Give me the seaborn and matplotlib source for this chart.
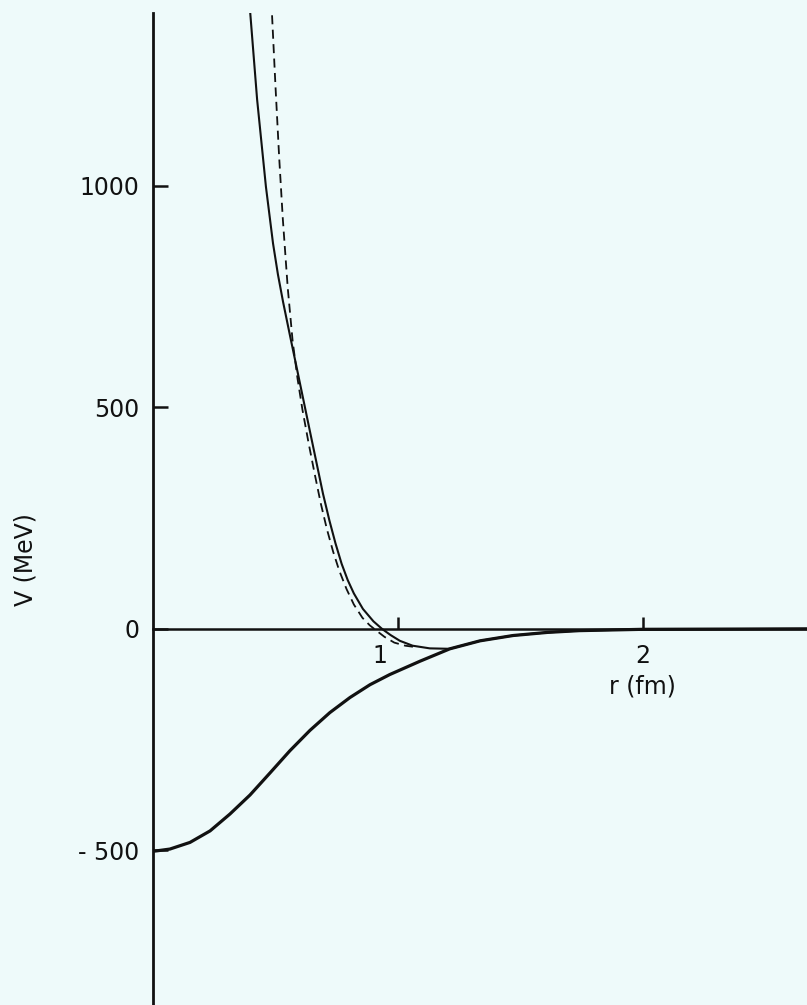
"""Nucleon-nucleon potential sketch: repulsive core + attractive tail, V(r) in MeV."""
import matplotlib
matplotlib.use("Agg")
import matplotlib.pyplot as plt
import matplotlib.transforms as mtransforms
import pandas as pd
import seaborn as sns

# total potential (thin solid)
r_total = [0.396, 0.425, 0.461, 0.49, 0.51, 0.531, 0.56, 0.588, 0.641, 0.694,
           0.72, 0.745, 0.77, 0.795, 0.82, 0.857, 0.90, 0.935, 0.97, 1.008,
           1.06, 1.13, 1.212, 1.335, 1.47, 1.61, 1.74, 2.0, 2.67]
V_total = [1397, 1195, 998, 870, 800, 738, 660, 586, 445, 305,
           245, 193, 147, 110, 80, 45, 17, 0, -14, -27,
           -38, -44, -45, -27, -15, -8, -4, -1, 0]

# alternative core (dashed)
r_dash = [0.486, 0.50, 0.515, 0.53, 0.55, 0.57, 0.59, 0.61, 0.635, 0.66,
          0.685, 0.71, 0.735, 0.76, 0.79, 0.82, 0.855, 0.885, 0.91, 0.945,
          0.985, 1.03, 1.07]
V_dash = [1385, 1225, 1065, 925, 770, 650, 565, 495, 420, 350,
          283, 225, 175, 132, 90, 55, 25, 8, -3, -18,
          -31, -38, -41]

# attractive part (thick solid)
r_att = [0.0, 0.016, 0.069, 0.151, 0.233, 0.314, 0.396, 0.478, 0.559, 0.641,
         0.722, 0.804, 0.886, 0.967, 1.008, 1.09, 1.212, 1.335, 1.47, 1.61,
         1.74, 2.0, 2.67]
V_att = [-502, -501, -497, -482, -456, -418, -375, -325, -275, -229,
         -189, -155, -126, -103, -93, -73, -45, -27, -15, -8,
         -4, -1, 0]

x_ticks = [1, 2]
y_ticks = [-500, 0, 500, 1000]
y_ticklabels = ["- 500", "0", "500", "1000"]

BG = "#eefafa"
INK = "#111111"

sns.set_style("white")
plt.rcParams["font.family"] = ["DejaVu Sans"]

fig = plt.figure(figsize=(8.07, 10.05), dpi=100, facecolor=BG)
ax = fig.add_axes([0.1896, 0.0, 0.8104, 0.987], facecolor=BG)

df_total = pd.DataFrame({"r": r_total, "V": V_total})
df_dash = pd.DataFrame({"r": r_dash, "V": V_dash})
df_att = pd.DataFrame({"r": r_att, "V": V_att})

sns.lineplot(data=df_total, x="r", y="V", ax=ax, color=INK, linewidth=1.5,
             sort=False, estimator=None)
sns.lineplot(data=df_dash, x="r", y="V", ax=ax, color=INK, linewidth=1.3,
             sort=False, estimator=None, linestyle=(0, (5, 3)))
sns.lineplot(data=df_att, x="r", y="V", ax=ax, color=INK, linewidth=2.3,
             sort=False, estimator=None)

ax.set_xlim(0, 2.67)
ax.set_ylim(-849, 1390)

for side in ["top", "right"]:
    ax.spines[side].set_visible(False)
ax.spines["left"].set_linewidth(2.0)
ax.spines["left"].set_color(INK)
ax.spines["bottom"].set_position(("data", 0))
ax.spines["bottom"].set_linewidth(1.8)
ax.spines["bottom"].set_color(INK)

ax.set_yticks(y_ticks)
ax.set_yticklabels(y_ticklabels)
ax.set_xticks(x_ticks)
ax.set_xticklabels([str(t) for t in x_ticks])
ax.tick_params(axis="y", left=True, direction="in", length=11, width=1.8,
               colors=INK, labelsize=17, pad=10)
ax.tick_params(axis="x", bottom=True, direction="in", length=9, width=1.8,
               colors=INK, labelsize=17, pad=11)

# the "1" sits a little left of its tick in the original
lbl1 = ax.get_xticklabels()[0]
lbl1.set_transform(lbl1.get_transform() +
                   mtransforms.ScaledTranslation(-0.18, 0, fig.dpi_scale_trans))

ax.set_xlabel("")
ax.set_ylabel("V (MeV)", fontsize=17, color=INK)
ax.yaxis.set_label_coords(-0.176, 0.4486)
ax.text(2.0, -129, "r (fm)", ha="center", va="center", fontsize=17, color=INK)

fig.savefig("out.png", dpi=100, facecolor=BG)
